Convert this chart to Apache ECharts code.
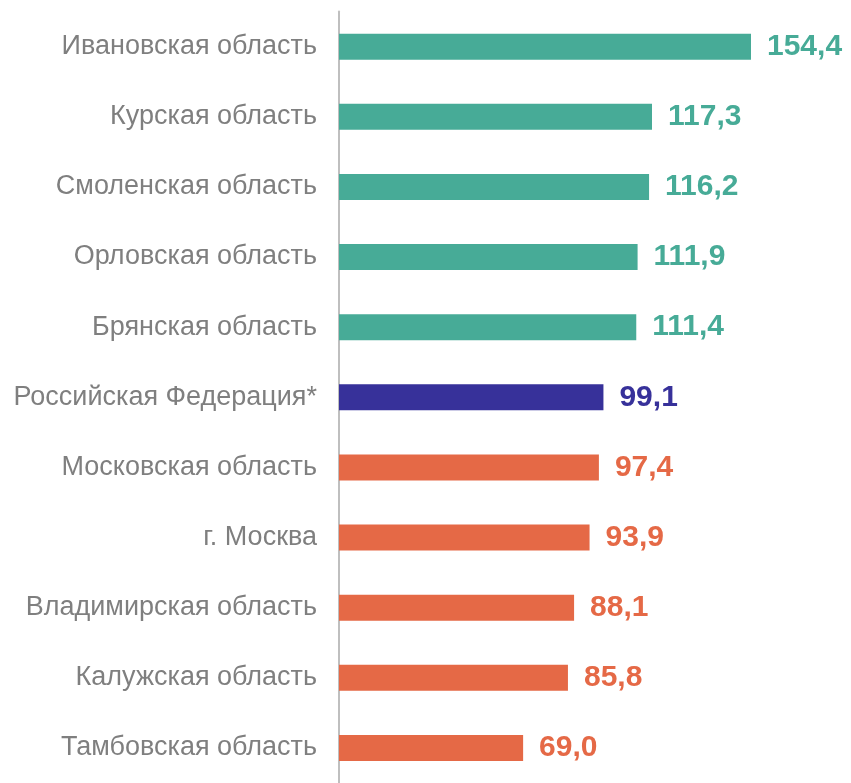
<!DOCTYPE html>
<html lang="ru">
<head>
    <meta charset="UTF-8">
    <title>Регионы</title>
    <style>
        html, body { margin: 0; padding: 0; background: #fff; }
    </style>
</head>
<body>
    <div id="chart" style="width:851px; height:783px"></div>
    <script src="https://cdn.jsdelivr.net/npm/echarts@6/dist/echarts.min.js"></script>
    <script>
        const regions = [
            'Ивановская область', 'Курская область', 'Смоленская область', 'Орловская область',
            'Брянская область', 'Российская Федерация*', 'Московская область', 'г. Москва',
            'Владимирская область', 'Калужская область', 'Тамбовская область'
        ];
        const values = [154.4, 117.3, 116.2, 111.9, 111.4, 99.1, 97.4, 93.9, 88.1, 85.8, 69.0];

        const teal = '#47AB97', navy = '#37319A', orange = '#E56946';
        // выше среднего по РФ - зелёный, РФ - синий, ниже - оранжевый
        const colorFor = (name, v) => name.startsWith('Российская') ? navy : (v > 99.1 ? teal : orange);
        const font = '"Liberation Sans", Arial, sans-serif';

        const chart = echarts.init(document.getElementById('chart'));
        chart.setOption({
            animation: false,
            grid: { left: 339, width: 412, top: 11.6, height: 777.7 },
            xAxis: {
                type: 'value',
                min: 0,
                max: 154.4,
                show: false
            },
            yAxis: {
                type: 'category',
                data: regions,
                inverse: true,
                axisTick: { show: false },
                axisLine: { lineStyle: { color: '#BFBFBF', width: 2 } },
                axisLabel: {
                    color: '#7F7F7F',
                    fontFamily: font,
                    fontSize: 27,
                    margin: 22
                }
            },
            series: [{
                type: 'bar',
                barWidth: 26,
                data: values.map((v, i) => ({
                    value: v,
                    itemStyle: { color: colorFor(regions[i], v) },
                    label: { color: colorFor(regions[i], v) }
                })),
                label: {
                    show: true,
                    position: 'right',
                    distance: 16,
                    fontFamily: font,
                    fontWeight: 'bold',
                    fontSize: 30,
                    formatter: p => p.value.toFixed(1).replace('.', ',')
                }
            }]
        });
    </script>
</body>
</html>
